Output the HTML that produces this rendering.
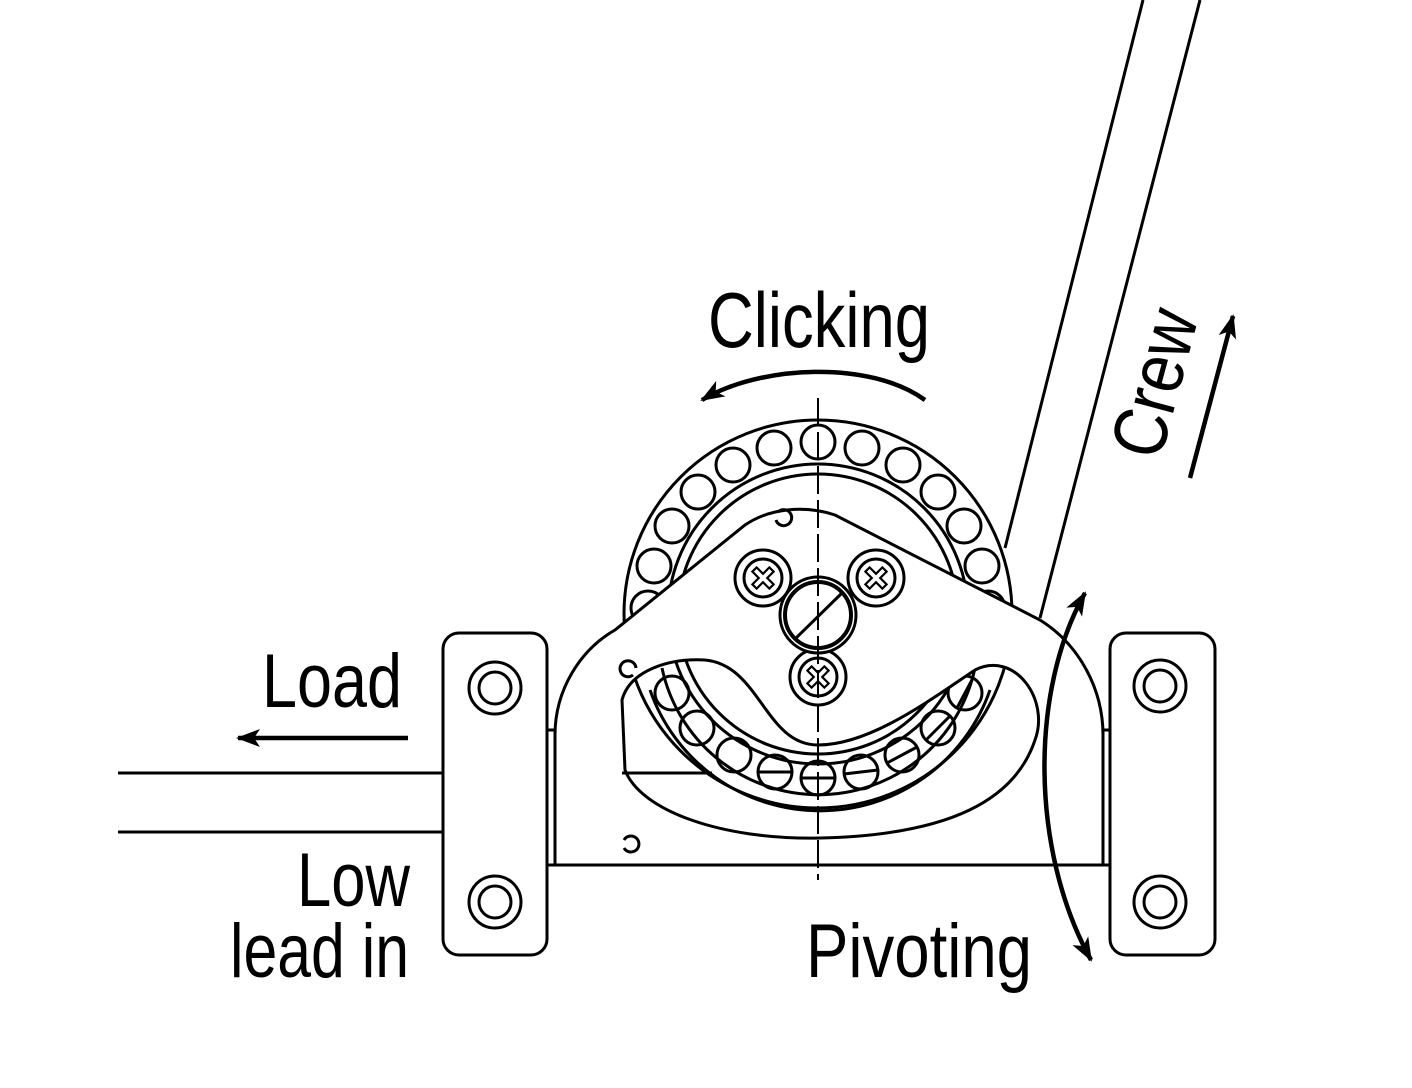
<!DOCTYPE html>
<html><head><meta charset="utf-8"><style>
html,body{margin:0;padding:0;background:#fff}
svg{display:block}
text{font-family:"Liberation Sans",Arial,sans-serif;fill:#000}
</style></head><body>
<svg width="1412" height="1088" viewBox="0 0 1412 1088" xmlns="http://www.w3.org/2000/svg">
<defs>
<marker id="ah" viewBox="0 0 24 18" refX="22" refY="9" markerWidth="24" markerHeight="18" markerUnits="userSpaceOnUse" orient="auto-start-reverse">
<path d="M0,0 L24,9 L0,18 L6,9 Z" fill="#000"/></marker>
</defs>
<g fill="none" stroke="#000" stroke-width="3">
<line x1="1143" y1="0" x2="1005" y2="548"/>
<line x1="1200" y1="0" x2="1040" y2="618"/>
<circle cx="818" cy="614" r="194" fill="#fff"/>
<circle cx="818" cy="614" r="150"/>
<circle cx="818" cy="614" r="140"/>
</g>
<g fill="none" stroke="#000" stroke-width="3">
<circle cx="818" cy="442" r="17"/>
<circle cx="862" cy="448" r="17"/>
<circle cx="774" cy="448" r="17"/>
<circle cx="903" cy="465" r="17"/>
<circle cx="733" cy="465" r="17"/>
<circle cx="938" cy="492" r="17"/>
<circle cx="698" cy="492" r="17"/>
<circle cx="964" cy="526" r="17"/>
<circle cx="672" cy="526" r="17"/>
<circle cx="982" cy="566" r="17"/>
<circle cx="654" cy="566" r="17"/>
<circle cx="988" cy="608" r="17"/>
<circle cx="648" cy="608" r="17"/>
<circle cx="672" cy="693" r="17"/>
<circle cx="697" cy="728" r="17"/>
<circle cx="734" cy="755" r="17"/>
<circle cx="775" cy="772" r="17"/><line x1="758" y1="772" x2="792" y2="772"/>
<circle cx="818" cy="778" r="17"/><line x1="801" y1="778" x2="835" y2="778"/>
<circle cx="861" cy="772" r="17"/><line x1="844" y1="774" x2="878" y2="770"/>
<circle cx="902" cy="755" r="17"/><line x1="887" y1="763" x2="917" y2="747"/>
<circle cx="938" cy="728" r="17"/><line x1="926" y1="740" x2="950" y2="716"/>
<circle cx="965" cy="693" r="17"/><line x1="957" y1="708" x2="973" y2="678"/>
</g>
<g fill="none" stroke="#000" stroke-width="3">
<path d="M650,690 A180,180 0 0 0 990,690"/>
<path d="M662,668 A160,160 0 0 0 975,668"/>
<path fill="#fff" fill-rule="evenodd" d="M555,865 L555,735 C555,690 580,650 615,630 L745,525 C770,508 805,505 835,515 L1040,620 C1080,645 1103,690 1103,735 L1103,865 Z
M622,700 C630,670 670,658 705,660 C760,665 765,745 818,745 C870,745 930,700 975,670 C1015,650 1050,700 1035,740 C1015,800 950,835 820,838 C720,840 640,810 625,770 Z"/>
<line x1="622" y1="773" x2="712" y2="773"/>
<path d="M776,520 A8,8 0 1 0 778,512"/>
<path d="M636,668 A8,8 0 1 0 633,675"/>
<path d="M624,848 A8,8 0 1 0 624,840"/>
<rect x="547" y="730" width="8" height="135"/>
<rect x="1103" y="730" width="7" height="135"/>
<circle cx="763" cy="578" r="28" fill="#fff"/><circle cx="763" cy="578" r="19"/>
<circle cx="876" cy="578" r="28" fill="#fff"/><circle cx="876" cy="578" r="19"/>
<circle cx="818" cy="677" r="28" fill="#fff"/><circle cx="818" cy="677" r="19"/>
<circle cx="818" cy="615" r="38" fill="#fff"/><circle cx="818" cy="615" r="33" stroke-width="4"/>
<line x1="794" y1="640" x2="843" y2="592"/>
<rect x="443" y="633" width="104" height="322" rx="16" fill="#fff"/>
<circle cx="495" cy="688" r="26"/><circle cx="495" cy="688" r="16"/>
<circle cx="495" cy="902" r="26"/><circle cx="495" cy="902" r="16"/>
<rect x="1110" y="633" width="105" height="322" rx="16" fill="#fff"/>
<circle cx="1160" cy="686" r="26"/><circle cx="1160" cy="686" r="16"/>
<circle cx="1160" cy="902" r="26"/><circle cx="1160" cy="902" r="16"/>
<line x1="118" y1="773" x2="443" y2="773"/>
<line x1="118" y1="832" x2="443" y2="832"/>
<line x1="818" y1="398" x2="818" y2="880" stroke-width="2" stroke-dasharray="28,6"/>
</g>
<g stroke="#000" stroke-width="2.2" fill="none">
<path d="M-3,-12 h6 v9 h9 v6 h-9 v9 h-6 v-9 h-9 v-6 h9 z" transform="translate(763 578) rotate(45)"/>
<path d="M-3,-12 h6 v9 h9 v6 h-9 v9 h-6 v-9 h-9 v-6 h9 z" transform="translate(876 578) rotate(45)"/>
<path d="M-3,-12 h6 v9 h9 v6 h-9 v9 h-6 v-9 h-9 v-6 h9 z" transform="translate(818 677) rotate(45)"/>
</g>
<g fill="none" stroke="#000" stroke-width="4.5">
<path d="M925,400 C870,360 760,365 702,400" marker-end="url(#ah)"/>
<line x1="408" y1="738" x2="238" y2="738" marker-end="url(#ah)"/>
<line x1="1190" y1="478" x2="1233" y2="316" marker-end="url(#ah)"/>
<path d="M1085,593 C1030,690 1030,850 1091,960" marker-start="url(#ah)" marker-end="url(#ah)"/>
</g>
<text x="708" y="347" font-size="78" textLength="222" lengthAdjust="spacingAndGlyphs">Clicking</text>
<text x="262" y="707" font-size="76" textLength="140" lengthAdjust="spacingAndGlyphs">Load</text>
<text x="297" y="906" font-size="76" textLength="113" lengthAdjust="spacingAndGlyphs">Low</text>
<text x="230" y="977" font-size="76" textLength="179" lengthAdjust="spacingAndGlyphs">lead in</text>
<text x="806" y="977" font-size="76" textLength="226" lengthAdjust="spacingAndGlyphs">Pivoting</text>
<text transform="translate(1160,462) rotate(-75)" font-size="76" textLength="150" lengthAdjust="spacingAndGlyphs">Crew</text>
</svg>
</body></html>
